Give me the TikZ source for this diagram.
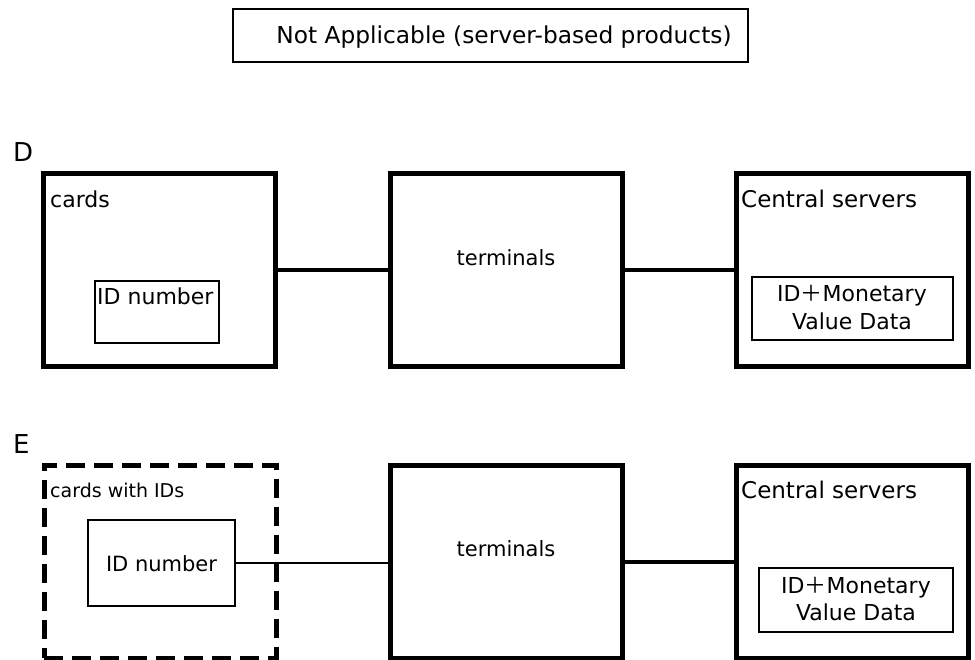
\documentclass[tikz,border=0pt]{standalone}
\usepackage{fontspec}
\setmainfont{DejaVu Sans}
\newfontfamily\cjkfont{Noto Sans CJK JP}
\newcommand{\fplus}{{\cjkfont ＋}}
\begin{document}
\begin{tikzpicture}[x=1pt,y=-1pt,
  box/.style={draw, line width=5pt, inner sep=0pt, outer sep=0pt, anchor=north west,
    minimum width=232pt, minimum height=193pt},
  dashbox/.style={box, dash pattern=on 19pt off 9pt},
  inbox/.style={draw, line width=1.5pt, inner sep=0pt, outer sep=0pt, anchor=north west},
  link/.style={line width=4pt},
  thinlink/.style={line width=1.5pt},
  txt/.style={inner sep=0pt, font=\fontsize{22}{26}\selectfont},
  lbl/.style={txt, anchor=base west},
  ctr/.style={txt, anchor=base},
  rowmark/.style={inner sep=0pt, anchor=base west, font=\fontsize{26}{30}\selectfont}]

\useasboundingbox (0,0) rectangle (975,660);

% heading box
\node[inbox, line width=1.9pt, minimum width=515pt, minimum height=53pt] (na) at (233,9) {};
\node[ctr, font=\fontsize{23.3}{28}\selectfont] (natext) at (504,44) {Not Applicable (server-based products)};

% ---- row D ----
\node[rowmark] (dmark) at (13,162) {D};
\node[box] (cardsD) at (43,174) {};
\node[lbl] (cardsDt) at (50,208) {cards};
\node[inbox, minimum width=124pt, minimum height=62pt] (idD) at (95,281) {};
\node[lbl] (idDt) at (97,305) {ID number};

\node[box] (termD) at (390,174) {};
\node[ctr, font=\fontsize{21}{25}\selectfont] (termDt) at (506,266) {terminals};

\node[box] (servD) at (736,174) {};
\node[lbl, font=\fontsize{23}{27}\selectfont] (servDt) at (741,208) {Central servers};
\node[inbox, minimum width=201pt, minimum height=63pt] (valD) at (752,277) {};
\node[ctr] (valD1) at (852,302) {ID\fplus Monetary};
\node[ctr] (valD2) at (852,330) {Value Data};

\draw[link] (cardsD.east) -- (termD.west);
\draw[link] (termD.east) -- (servD.west);

% ---- row E ----
\node[rowmark] (emark) at (13,453) {E};
\node[dashbox] (cardsE) at (44,465) {};
\node[lbl, font=\fontsize{19}{23}\selectfont] (cardsEt) at (50,497) {cards with IDs};
\node[inbox, minimum width=147pt, minimum height=86pt] (idE) at (88,520) {};
\node[ctr, font=\fontsize{21}{25}\selectfont] (idEt) at (idE.center) [yshift=-8pt] {ID number};

\node[box] (termE) at (390,465) {};
\node[ctr, font=\fontsize{21}{25}\selectfont] (termEt) at (506,556) {terminals};

\node[box] (servE) at (736,465) {};
\node[lbl, font=\fontsize{23}{27}\selectfont] (servEt) at (741,498) {Central servers};
\node[inbox, minimum width=194pt, minimum height=64pt] (valE) at (759,568) {};
\node[ctr] (valE1) at (856,593) {ID\fplus Monetary};
\node[ctr] (valE2) at (856,620) {Value Data};

\draw[thinlink] (idE.east) -- (idE.east -| termE.west);
\draw[link] (termE.east) -- (servE.west);
\end{tikzpicture}
\end{document}
